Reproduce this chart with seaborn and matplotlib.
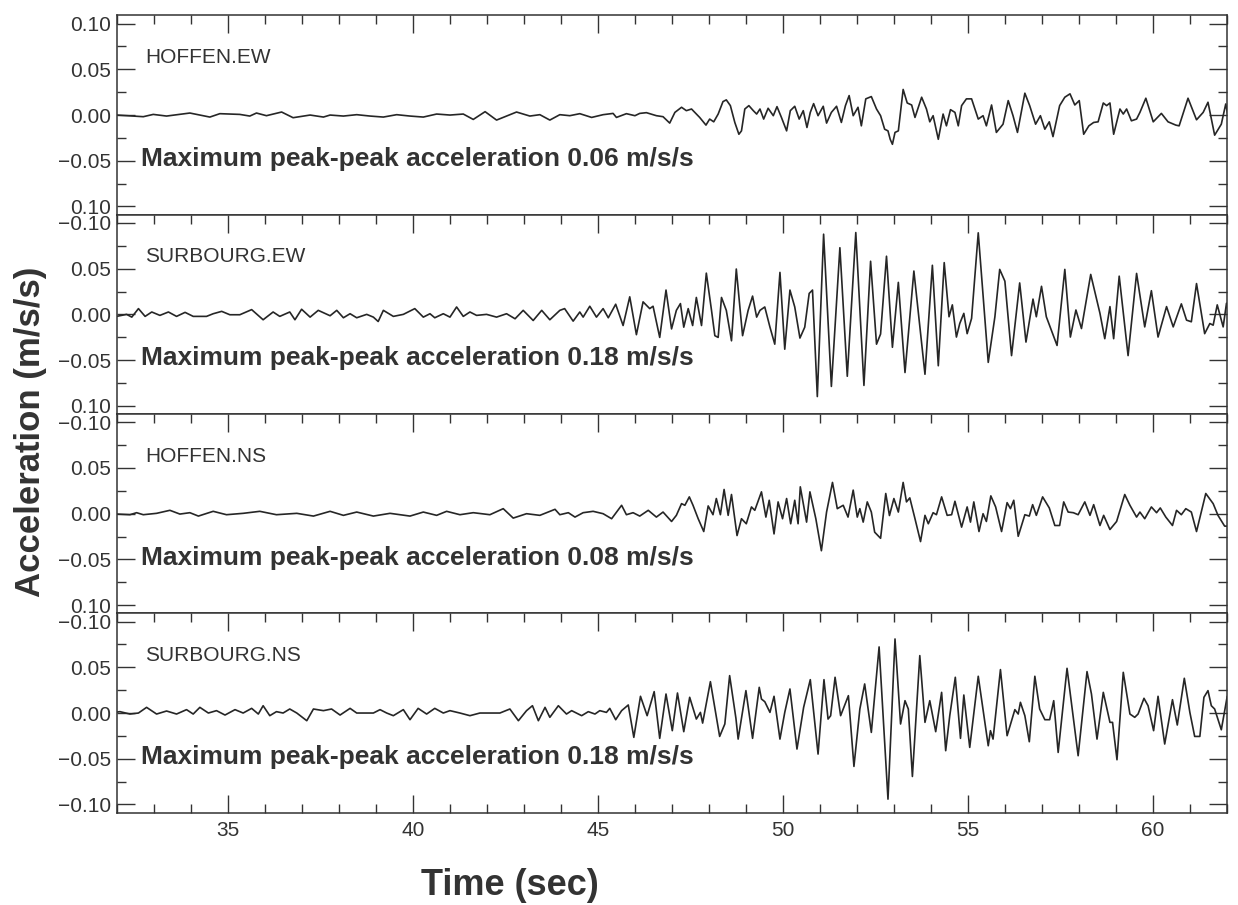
"""
Four stacked accelerograms (Hoffen / Surbourg, EW + NS) with peak-peak notes.
"""

import numpy as np
import matplotlib
matplotlib.use("Agg")
import matplotlib.pyplot as plt
from matplotlib.ticker import MultipleLocator
import seaborn as sns

sns.set_style("ticks")
plt.rcParams['font.family'] = ['Liberation Sans', 'DejaVu Sans']

# ─── Data (time in s, acceleration in 1e-3 m/s/s) ─────────────────────
hoffen_ew_t = [32.0, 32.71, 32.98, 33.34, 33.97, 34.51, 34.78, 35.32, 35.59, 35.77, 36.04,
               36.45, 36.76, 37.22, 37.58, 37.76, 38.12, 38.48, 38.84, 39.2, 39.56, 39.92,
               40.28, 40.64, 41.0, 41.36, 41.63, 41.95, 42.26, 42.53, 42.8, 43.16, 43.43,
               43.7, 43.97, 44.24, 44.51, 44.83, 45.14, 45.41, 45.5, 45.77, 46.0, 46.13,
               46.31, 46.58, 46.76, 46.94, 47.08, 47.26, 47.39, 47.53, 47.62, 47.75, 47.92,
               48.02, 48.13, 48.25, 48.38, 48.47, 48.58, 48.7, 48.81, 48.88, 48.97, 49.08,
               49.2, 49.29, 49.38, 49.48, 49.6, 49.74, 49.84, 49.96, 50.1, 50.2, 50.32,
               50.44, 50.55, 50.65, 50.74, 50.83, 50.95, 51.09, 51.18, 51.31, 51.45, 51.58,
               51.69, 51.79, 51.9, 52.03, 52.12, 52.24, 52.39, 52.53, 52.64, 52.75, 52.84,
               52.9, 52.96, 53.03, 53.12, 53.25, 53.36, 53.48, 53.57, 53.75, 53.88, 53.97,
               54.06, 54.2, 54.33, 54.42, 54.53, 54.65, 54.74, 54.83, 54.96, 55.1, 55.28,
               55.41, 55.5, 55.64, 55.77, 55.95, 56.09, 56.22, 56.34, 56.54, 56.67, 56.83,
               56.96, 57.08, 57.2, 57.3, 57.48, 57.62, 57.76, 57.89, 58.01, 58.13, 58.27,
               58.4, 58.52, 58.66, 58.75, 58.84, 58.94, 59.11, 59.2, 59.29, 59.42, 59.56,
               59.65, 59.81, 60.01, 60.23, 60.41, 60.62, 60.71, 60.95, 61.18, 61.36, 61.49,
               61.67, 61.85, 61.97, 62.03]
hoffen_ew_a = [0, -1.8, 0.7, -1.1, 2.2, -2.2, 1.5, 0.7, -1.1, 2.2, -0.7,
               3.3, -2.9, 0, -2.2, 0, -1.1, 0.4, -1.1, -2.2, 0.4, -1.1,
               -2.2, 1.1, 0, 1.1, -4.8, 3.7, -5.5, -1.1, 3.3, -1.1, 0.4,
               -5.5, 0.4, -0.7, 1.5, -2.6, 0.4, 1.8, -2.6, 1.5, -0.7, 1.8,
               2.6, -0.7, -1.8, -8.8, 2.9, 8.5, 4.8, 6.6, 2.9, -2.6, -11,
               -4.4, -7.4, 1.1, 14.7, 16.6, 10.3, -8.1, -21, -17.3, 6.6, 10.3,
               4.8, 1.1, 6.6, -4.4, 7.4, -0.7, 9.2, -2.6, -17.3, 4.8, 9.6,
               -4.4, 4.8, -13.6, 2.9, 12.5, -0.7, 9.6, -8.8, 2.9, 9.6, -8.1,
               10.3, 21.3, -0.7, 8.5, -11.8, 17.7, 20.2, 6.6, -0.7, -15.5, -17.3,
               -26.5, -32, -19, -17.3, 28, 13.2, 11, -2.6, 19.5, 6.6, -7.4,
               -0.7, -26.5, 1.1, -11.8, 5.9, 2.9, -11.8, 10.3, 17.7, 17.7, -4.4,
               -0.7, -11.8, 11, -19, -10, 15.8, -0.7, -19, 23.9, 10.3, -10,
               -0.7, -15.5, -7.4, -23.6, 10.3, 19.5, 23.2, 11, 15.8, -21, -11.8,
               -8.1, -7.4, 13.2, 10.3, 13.2, -21, 6.6, 1.1, 6.6, -6.3, -4.4,
               2.9, 18.4, -7.4, 1.8, -7.4, -11, -11.8, 18.4, -5.2, 2.9, 14,
               -22, -10, 12.1, -0.7]

surbourg_ew_t = [31.81, 31.99, 32.26, 32.4, 32.58, 32.76, 32.94, 33.16, 33.39, 33.61, 33.84,
                 34.06, 34.42, 34.6, 34.83, 35.05, 35.32, 35.64, 35.95, 36.22, 36.4, 36.67,
                 36.81, 36.99, 37.22, 37.44, 37.76, 37.94, 38.12, 38.3, 38.48, 38.75, 38.93,
                 39.06, 39.2, 39.47, 39.74, 40.05, 40.28, 40.46, 40.59, 40.82, 41.0, 41.18,
                 41.36, 41.54, 41.72, 41.99, 42.26, 42.53, 42.76, 42.98, 43.25, 43.48, 43.7,
                 43.97, 44.1, 44.33, 44.51, 44.6, 44.78, 44.96, 45.14, 45.28, 45.48, 45.68,
                 45.86, 46.04, 46.22, 46.4, 46.49, 46.67, 46.84, 46.99, 47.12, 47.23, 47.32,
                 47.44, 47.56, 47.66, 47.8, 47.93, 48.07, 48.16, 48.25, 48.34, 48.47, 48.61,
                 48.74, 48.91, 49.06, 49.18, 49.29, 49.38, 49.51, 49.65, 49.78, 49.92, 50.05,
                 50.19, 50.32, 50.46, 50.59, 50.71, 50.8, 50.93, 51.1, 51.31, 51.54, 51.74,
                 51.97, 52.19, 52.37, 52.53, 52.64, 52.8, 52.96, 53.12, 53.3, 53.54, 53.84,
                 54.04, 54.2, 54.36, 54.49, 54.58, 54.69, 54.78, 54.89, 54.98, 55.1, 55.28,
                 55.55, 55.73, 55.86, 56.0, 56.18, 56.4, 56.57, 56.76, 56.85, 56.99, 57.12,
                 57.29, 57.41, 57.62, 57.77, 57.92, 58.07, 58.32, 58.57, 58.7, 58.84, 58.94,
                 59.09, 59.33, 59.56, 59.78, 59.96, 60.14, 60.37, 60.55, 60.77, 60.91, 61.04,
                 61.18, 61.4, 61.54, 61.63, 61.74, 61.9, 61.99, 62.03]
surbourg_ew_a = [0.7, -2.2, 0, -3, 6.3, -2.2, 2.6, -1.1, 2.6, -2.2, 2.2,
                 -2.2, -2.2, 0.7, 3.3, -0.4, -0.4, 5.2, -5.9, 2.6, -2.2, 2.6,
                 -5.9, 5.6, -3, 4.4, -1.5, 4.4, -3.7, 0.7, -3.7, 0, -3,
                 -7.8, 4.4, -2.2, 0, 6.3, -3, 0.7, -3.7, 0.7, -3, 8.1,
                 -2.2, 2.6, -1.1, 0, -3, 0.7, -4.8, 4.4, -6.7, 4.4, -5.9,
                 4.4, 6.3, -7.4, 2.6, -3, 8.9, -3, 6.3, -3.7, 11.1, -12.2,
                 19.2, -22.2, 13.7, 6.3, 8.9, -25.2, 26.6, -15.9, 4.4, 11.8, -14,
                 6.3, -12.2, 18.5, -12.2, 45.1, 4.4, -23.3, -25.2, 18.5, 4.4, -28.9,
                 49.6, -23.3, 4.4, 20, -3, 4.4, 8.1, -14, -32.6, 45.9, -38.1,
                 26.6, 8.1, -25.9, -14, 22.9, 26.6, -89.9, 87.7, -78.8, 72.9, -67.7,
                 89.5, -77.7, 58.1, -32.6, -21.5, 63.6, -36, 35, -63.6, 47.4, -65.5,
                 53.7, -56.2, 56.6, -2.6, 10.4, -24.8, -10, 1.1, -21.1, -4.4, 89.2,
                 -52.5, -2.6, 49.2, 36.3, -45.1, 34.4, -30.3, 16.7, -2.6, 30.7, -2.6,
                 -21.1, -34, 49.2, -24.8, 4.8, -15.5, 43.7, 1.1, -26.6, 8.5, -26.6,
                 41.8, -45.1, 44.8, -13.7, 25.9, -24.8, 8.5, -13.7, 11.5, -6.3, -8.1,
                 33.7, -21.1, -10, -11.8, 10.4, -13.7, 12.2, 4.8]

hoffen_ns_t = [31.81, 32.35, 32.53, 32.71, 33.07, 33.43, 33.7, 33.97, 34.2, 34.6, 34.96,
               35.41, 35.86, 36.31, 36.86, 37.31, 37.76, 38.12, 38.48, 38.93, 39.38, 39.92,
               40.28, 40.64, 40.91, 41.27, 41.63, 42.08, 42.44, 42.71, 43.07, 43.43, 43.84,
               43.97, 44.2, 44.38, 44.6, 44.87, 45.14, 45.37, 45.64, 45.77, 45.95, 46.13,
               46.36, 46.58, 46.76, 46.99, 47.12, 47.26, 47.35, 47.47, 47.57, 47.71, 47.86,
               47.98, 48.11, 48.2, 48.31, 48.41, 48.52, 48.61, 48.76, 48.88, 49.01, 49.15,
               49.24, 49.42, 49.54, 49.63, 49.76, 49.87, 49.99, 50.1, 50.21, 50.32, 50.41,
               50.47, 50.64, 50.73, 50.89, 51.04, 51.18, 51.34, 51.47, 51.63, 51.76, 51.9,
               52.01, 52.08, 52.17, 52.28, 52.39, 52.48, 52.64, 52.78, 52.88, 53.0, 53.12,
               53.25, 53.34, 53.43, 53.57, 53.72, 53.84, 53.93, 54.06, 54.15, 54.29, 54.44,
               54.56, 54.65, 54.83, 54.98, 55.07, 55.16, 55.3, 55.41, 55.5, 55.62, 55.75,
               55.91, 56.06, 56.15, 56.24, 56.36, 56.54, 56.66, 56.75, 56.85, 57.02, 57.2,
               57.35, 57.48, 57.59, 57.71, 57.85, 57.98, 58.16, 58.3, 58.4, 58.57, 58.67,
               58.84, 59.02, 59.24, 59.38, 59.56, 59.65, 59.78, 59.96, 60.1, 60.2, 60.35,
               60.53, 60.64, 60.77, 60.89, 61.04, 61.18, 61.43, 61.63, 61.76, 61.94, 62.03]
hoffen_ns_a = [0, -1.1, 1.1, -1.1, 0.4, 3.7, -0.4, 1.1, -2.6, 2.6, -1.1,
               0.4, 2.6, -1.1, 0.4, -2.6, 2.6, -1.8, 1.8, -2.6, 0.4, -2.6,
               1.8, -1.8, 2.6, -1.1, 1.1, -1.1, 5.5, -4.8, 0, -1.8, 4.8,
               -1.1, 1.1, -3.7, 1.1, 2.6, 0, -5.5, 9.2, -1.1, 1.1, -2.6,
               3.7, -3.7, 1.8, -8.5, -1.8, 11, 9.2, 18.4, 9.2, -5.5, -19.5,
               8.5, -1.1, 16.6, -1.1, 26.5, -1.8, 21, -23.9, -5.5, -11, 7.4,
               3.7, 23.9, -3.7, 14.7, -22.1, 12.9, -5.5, 16.6, -11, 14.7, -11,
               29.4, -9.2, 23.9, -5.5, -40.5, 1.8, 34.2, 5.5, 9.2, -3.7, 25.8,
               -3.7, 5.5, -9.2, 12.9, 1.8, -20.2, -26.9, 22.1, -2, 16.6, 1.8,
               34.2, 12.9, 17.3, -5.5, -30.5, -1.8, -11, 1.1, -1.1, 18.4, -1.8,
               -1.1, 13.6, -14.7, 7.4, -9.2, 12.9, -19.5, 0, -8.5, 19.5, 7.4,
               -19.5, 12.1, 5.5, 14.7, -24.7, -1.1, -2.6, 9.9, -1.8, 18.4, 6.3,
               -12.9, -12.9, 12.9, 1.8, 1.1, -1.1, 12.9, -1.8, 9.9, -12.9, -1.8,
               -17.3, -8.5, 21, 9.2, -3.7, 1.8, -5.5, 7.4, 1.1, 6.3, -3.7,
               -12.9, 3.7, -1.1, 5.5, 1.8, -19.5, 22.1, 11, -1.8, -13.6, -13.6]

surbourg_ns_t = [31.81, 32.08, 32.35, 32.58, 32.8, 33.07, 33.34, 33.61, 33.88, 34.06, 34.24,
                 34.47, 34.69, 34.92, 35.19, 35.41, 35.64, 35.82, 35.95, 36.13, 36.31, 36.49,
                 36.67, 36.86, 37.13, 37.31, 37.58, 37.8, 38.03, 38.3, 38.48, 38.66, 38.93,
                 39.11, 39.29, 39.47, 39.74, 39.92, 40.14, 40.37, 40.59, 40.82, 41.0, 41.27,
                 41.54, 41.81, 42.08, 42.35, 42.62, 42.85, 43.07, 43.23, 43.39, 43.57, 43.7,
                 43.93, 44.15, 44.29, 44.42, 44.56, 44.74, 44.92, 45.05, 45.23, 45.32, 45.48,
                 45.64, 45.82, 45.97, 46.15, 46.33, 46.52, 46.67, 46.84, 47.01, 47.15, 47.32,
                 47.48, 47.66, 47.77, 47.83, 48.04, 48.29, 48.43, 48.56, 48.73, 48.79, 49.0,
                 49.18, 49.36, 49.42, 49.51, 49.65, 49.76, 49.92, 50.05, 50.19, 50.38, 50.56,
                 50.74, 50.95, 51.11, 51.22, 51.29, 51.41, 51.56, 51.77, 51.92, 52.08, 52.21,
                 52.39, 52.6, 52.84, 53.03, 53.18, 53.3, 53.39, 53.5, 53.7, 53.84, 53.97,
                 54.13, 54.29, 54.4, 54.51, 54.66, 54.8, 54.89, 55.05, 55.28, 55.55, 55.61,
                 55.68, 55.88, 56.06, 56.27, 56.36, 56.42, 56.54, 56.66, 56.81, 56.94, 57.08,
                 57.21, 57.32, 57.44, 57.68, 57.98, 58.22, 58.34, 58.49, 58.66, 58.84, 58.91,
                 59.03, 59.2, 59.38, 59.51, 59.6, 59.76, 59.87, 60.02, 60.14, 60.32, 60.53,
                 60.66, 60.85, 61.0, 61.13, 61.27, 61.38, 61.49, 61.58, 61.67, 61.85, 62.01]
surbourg_ns_a = [0, 1.5, -1.1, 0, 6.2, -1.1, 2.2, -1.1, 3.7, -1.1, 6.2,
                 0, 2.6, -2.2, 3.7, 0, 5.1, -1.1, 8, -2.9, 1.5, 0,
                 4.4, 0, -8.4, 4.4, 2.6, 4.4, -2.2, 5.1, 0, 0, 0,
                 3.7, 0, -2.9, 3.7, -7.3, 5.1, -1.1, 5.1, 0, 2.6, 0,
                 -2.9, 0, 0, 0, 4.4, -8.4, 2.6, 8, -8.4, 6.2, -4.7,
                 8, -1.1, 2.6, 0, -2.9, 1.5, -1.1, 2.6, 0.7, 5.1, -7.3,
                 2.6, 8.8, -26.6, 18.3, -2.9, 23.4, -27.7, 20.8, -19.3, 21.9, -20.4,
                 17.2, -6.6, 0.7, -11, 34.3, -25.6, -12, 40.9, -5.8, -28.5, 24.5,
                 -27.7, 28.1, 15.3, 12.4, 0.7, 18.3, -28.5, 0.7, 26.3, -39.4, 6.2,
                 36.5, -44.9, 36.5, -6.6, -3, 39.1, -2.9, 19, -58.4, 4.4, 31.8,
                 -21.2, 72.3, -94.2, 81, -12, 13.5, 4.4, -69.4, 62.8, -10.2, 13.5,
                 -20.4, 22.6, -41.2, -2.9, 39.1, -27.7, 19.7, -37.6, 40.2, -35.8, -19.3,
                 -28.5, 47.5, -24.8, 3.7, -1.1, 11.7, -2.9, -31.4, 40.2, 4.4, -7.3,
                 -7.3, 13.5, -43.1, 48.9, -46.7, 45.3, 20.8, -28.5, 22.6, -10.2, -10.2,
                 -51.1, 44.5, -1.1, -4.7, -1.1, 16.1, 8, -19.3, 18.3, -33.9, 14.6,
                 -13.1, 38, 0.7, -25.6, -25.6, 17.2, 24.5, 8, 4.4, -18.3, 18.3]

stations = ['HOFFEN.EW', 'SURBOURG.EW', 'HOFFEN.NS', 'SURBOURG.NS']
peak_peak = [0.06, 0.18, 0.08, 0.18]
times = [hoffen_ew_t, surbourg_ew_t, hoffen_ns_t, surbourg_ns_t]
accels = [hoffen_ew_a, surbourg_ew_a, hoffen_ns_a, surbourg_ns_a]

ytick_vals = [0.10, 0.05, 0.0, -0.05, -0.10]
ytick_labels = [
    ['0.10', '0.05', '0.00', '\u22120.05', '0.10'],
    ['\u22120.10', '0.05', '0.00', '\u22120.05', '0.10'],
    ['\u22120.10', '0.05', '0.00', '\u22120.05', '0.10'],
    ['\u22120.10', '0.05', '0.00', '\u22120.05', '\u22120.10'],
]

LINE = '#262626'
TEXT = '#333333'

fig, axes = plt.subplots(4, 1, figsize=(12.38, 9.05), dpi=100, sharex=True)
fig.subplots_adjust(left=0.0945, right=0.991, top=0.983, bottom=0.102, hspace=0)

for i, ax in enumerate(axes):
    t = np.array(times[i])
    a = np.array(accels[i]) / 1000.0
    sns.lineplot(x=t, y=a, ax=ax, color=LINE, linewidth=1.2,
                 estimator=None, sort=False)

    ax.set_xlim(32, 62)
    ax.set_ylim(-0.109, 0.109)
    ax.set_yticks(ytick_vals, ytick_labels[i])
    ax.yaxis.set_minor_locator(MultipleLocator(0.025))
    ax.xaxis.set_major_locator(MultipleLocator(5))
    ax.xaxis.set_minor_locator(MultipleLocator(1))

    last = i == len(axes) - 1
    ax.tick_params(axis='x', which='both', direction='in', top=True, bottom=last,
                   labelbottom=last, labelsize=15, colors=TEXT, pad=6)
    ax.tick_params(axis='y', which='both', direction='in', left=True, right=True,
                   labelsize=15, colors=TEXT, pad=4)
    ax.tick_params(which='major', length=13, width=1.0)
    ax.tick_params(which='minor', length=6.5, width=1.0)
    for sp in ax.spines.values():
        sp.set_linewidth(1.1)
        sp.set_color(TEXT)

    ax.text(32.76, 0.063, stations[i], fontsize=15, color=TEXT,
            ha='left', va='center')
    ax.text(32.66, -0.048, f'Maximum peak-peak acceleration {peak_peak[i]:.2f} m/s/s',
            fontsize=19, fontweight='bold', color=TEXT, ha='left', va='center')
    ax.set_ylabel('')

fig.supylabel('Acceleration (m/s/s)', x=0.011, y=0.523, fontsize=25,
              fontweight='bold', color=TEXT, va='center')
fig.supxlabel('Time (sec)', x=0.412, y=0.022, fontsize=26,
              fontweight='bold', color=TEXT, va='center')

fig.savefig('out.png', dpi=100)
